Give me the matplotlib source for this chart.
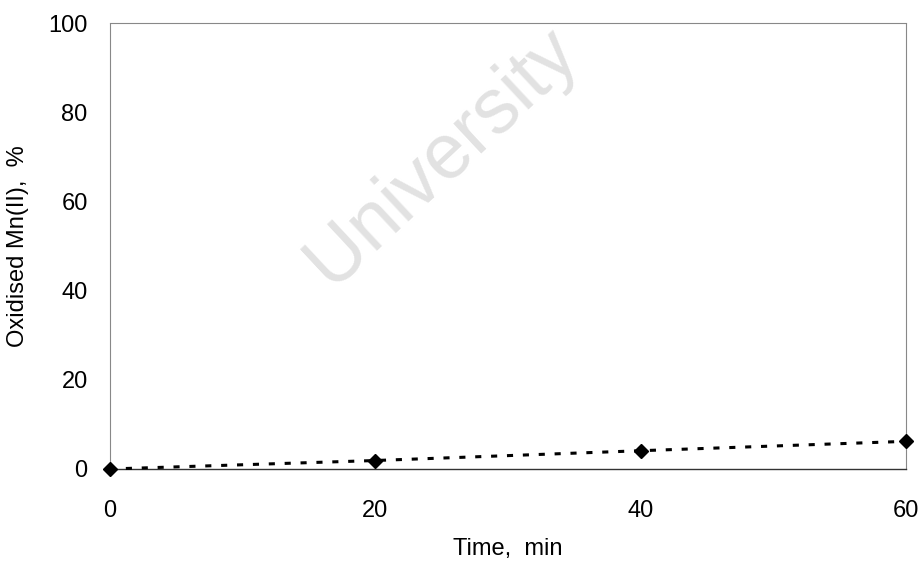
import matplotlib
matplotlib.use("Agg")
import matplotlib.pyplot as plt

time_min = [0, 20, 40, 60]
oxidised_mn = [0.0, 1.9, 4.1, 6.2]

x_ticks = [0, 20, 40, 60]
y_ticks = [0, 20, 40, 60, 80, 100]

plt.rcParams["font.family"] = ["Liberation Sans", "DejaVu Sans"]

fig = plt.figure(figsize=(9.21, 5.62), dpi=100)
ax = fig.add_axes([0.1194, 0.1655, 0.8643, 0.7935])

ax.plot(time_min, oxidised_mn, color="black", linestyle=(0, (2, 3.2)), linewidth=2.2,
        marker="D", markersize=7, markerfacecolor="black", markeredgecolor="black",
        clip_on=False, zorder=3)

ax.set_xlim(0, 60)
ax.set_ylim(0, 100)
ax.set_xticks(x_ticks)
ax.set_yticks(y_ticks)
ax.tick_params(axis="both", length=0, labelsize=17)
ax.tick_params(axis="x", pad=22)
ax.tick_params(axis="y", pad=16)

for side in ["top", "left", "right"]:
    ax.spines[side].set_color("#888888")
    ax.spines[side].set_linewidth(0.8)
    ax.spines[side].set_linestyle((0, (1, 1)))
ax.spines["bottom"].set_color("#333333")
ax.spines["bottom"].set_linewidth(1.0)

ax.set_xlabel("Time,  min", fontsize=17, labelpad=12)
ax.set_ylabel("Oxidised Mn(II),  %", fontsize=17, labelpad=14)

# faint watermark across the plot
fig.text(0.48, 0.72, "University", fontsize=56, color="#e2e2e2", rotation=43,
         ha="center", va="center", zorder=0)

fig.savefig("out.png", dpi=100)
